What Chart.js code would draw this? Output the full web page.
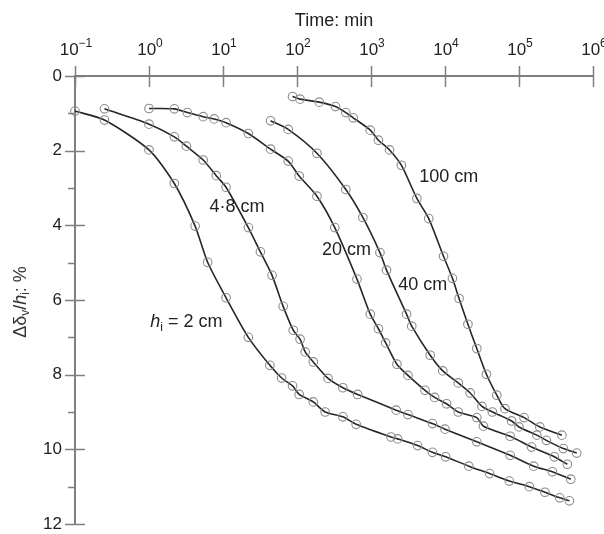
<!DOCTYPE html>
<html>
<head>
<meta charset="utf-8">
<script src="https://cdn.jsdelivr.net/npm/chart.js@4.4.1/dist/chart.umd.min.js"></script>
<style>
    html, body { margin: 0; padding: 0; background: #fff; }
    #wrap { width: 604px; height: 534px; }
</style>
</head>
<body>
<div id="wrap"><canvas id="settleChart" width="604" height="534"></canvas></div>
<script>
// Time axis (log, minutes) and settlement axis (%)
const decadeTicks = [0.1, 1, 10, 100, 1000, 10000, 100000, 1000000];
const decadeExponents = ['\u22121', '0', '1', '2', '3', '4', '5', '6'];
const yTicks = [0, 2, 4, 6, 8, 10, 12];

// h_i = 2 cm
const time2 = [0.1, 0.25, 1, 2.2, 4.2, 6.2, 11, 22, 43, 62, 87, 107, 166, 240, 417, 630, 1860, 2290, 4270, 6760, 10200, 21000, 40000, 74000, 138000, 224000, 355000, 480000];
const settle2 = [0.94, 1.18, 1.98, 2.88, 4.02, 4.99, 5.94, 7.0, 7.75, 8.09, 8.3, 8.53, 8.73, 9.0, 9.13, 9.33, 9.67, 9.72, 9.9, 10.08, 10.2, 10.45, 10.65, 10.85, 11.0, 11.15, 11.3, 11.38];

// h_i = 4.8 cm
const time48 = [0.25, 1, 2.2, 3.2, 5.4, 8.1, 11, 22, 32, 46, 65, 89, 110, 129, 166, 263, 417, 660, 2190, 3160, 6760, 10000, 26900, 75900, 158000, 282000, 500000];
const settle48 = [0.88, 1.29, 1.63, 1.88, 2.25, 2.67, 2.98, 4.06, 4.71, 5.34, 6.17, 6.81, 7.05, 7.39, 7.66, 8.1, 8.35, 8.53, 8.95, 9.07, 9.31, 9.46, 9.8, 10.16, 10.45, 10.6, 10.8];

// h_i = 20 cm
const time20 = [1, 2.2, 3.3, 5.4, 7.6, 11, 22, 44, 76, 107, 186, 324, 646, 977, 1260, 1580, 2240, 3160, 5370, 7240, 10500, 15100, 26900, 33100, 75900, 148000, 300000, 450000];
const settle20 = [0.87, 0.88, 0.98, 1.09, 1.15, 1.25, 1.54, 1.96, 2.28, 2.68, 3.22, 4.06, 5.44, 6.38, 6.77, 7.15, 7.72, 8.02, 8.42, 8.61, 8.78, 9.0, 9.15, 9.38, 9.65, 9.94, 10.2, 10.4];

// h_i = 40 cm
const time40 = [44, 76, 186, 457, 776, 1320, 1620, 3020, 3550, 6310, 9330, 15100, 21900, 31600, 43700, 79400, 100000, 174000, 234000, 398000, 603000];
const settle40 = [1.2, 1.43, 2.07, 3.04, 3.79, 4.73, 5.2, 6.38, 6.7, 7.48, 7.9, 8.22, 8.49, 8.85, 9.0, 9.24, 9.4, 9.62, 9.76, 9.98, 10.1];

// h_i = 100 cm
const time100 = [87, 110, 200, 331, 457, 575, 977, 1260, 1780, 2570, 4170, 6030, 9550, 12600, 15500, 20400, 26900, 36300, 50100, 64600, 117000, 191000, 380000];
const settle100 = [0.55, 0.62, 0.7, 0.82, 0.98, 1.12, 1.45, 1.72, 1.98, 2.39, 3.28, 3.82, 4.83, 5.42, 5.96, 6.65, 7.3, 7.99, 8.55, 8.91, 9.15, 9.4, 9.62];

const FONT = 'Liberation Sans, Arial, Helvetica, sans-serif';
const AXIS_GREY = '#7f7f7f';

function toPoints(times, values) {
    return times.map((t, i) => ({ x: t, y: values[i] }));
}

function makeSeries(label, times, values) {
    return {
        label: label,
        data: toPoints(times, values),
        borderColor: '#262626',
        borderWidth: 1.6,
        tension: 0.25,
        pointRadius: 4.3,
        pointBorderWidth: 1.1,
        pointBorderColor: '#8c8c8c',
        pointBackgroundColor: 'rgba(0,0,0,0)',
        fill: false,
        clip: 8
    };
}

// draws a row of text pieces (for sub/superscripts), centred on x
function drawPieces(ctx, pieces, x, y) {
    let total = 0;
    pieces.forEach(p => { ctx.font = p.font; total += ctx.measureText(p.text).width; });
    let cx = x - total / 2;
    pieces.forEach(p => {
        ctx.font = p.font;
        ctx.fillText(p.text, cx, y + (p.dy || 0));
        cx += ctx.measureText(p.text).width;
    });
}

// curve labels, placed in data coordinates
const curveNotes = [
    { at: [3.2, 6.6], pieces: [
        { text: 'h', font: 'italic 18px ' + FONT },
        { text: 'i', font: '12px ' + FONT, dy: 5 },
        { text: ' = 2 cm', font: '18px ' + FONT }] },
    { at: [15.5, 3.51], pieces: [{ text: '4\u00b78 cm', font: '18px ' + FONT }] },
    { at: [468, 4.65], pieces: [{ text: '20 cm', font: '18px ' + FONT }] },
    { at: [5000, 5.6], pieces: [{ text: '40 cm', font: '18px ' + FONT }] },
    { at: [11200, 2.71], pieces: [{ text: '100 cm', font: '18px ' + FONT }] }
];

const axisDecor = {
    id: 'axisDecor',
    afterDraw(chart) {
        const { ctx, chartArea } = chart;
        const x = chart.scales.x;
        const y = chart.scales.y;
        ctx.save();
        ctx.strokeStyle = AXIS_GREY;
        ctx.lineWidth = 1.5;

        // decade ticks crossing the top axis
        decadeTicks.forEach(t => {
            const px = Math.round(x.getPixelForValue(t)) + 0.5;
            ctx.beginPath();
            ctx.moveTo(px, chartArea.top - 10);
            ctx.lineTo(px, chartArea.top + 11);
            ctx.stroke();
        });

        // major ticks crossing the left axis, minor ones outside
        for (let v = 0; v <= 12; v++) {
            const py = Math.round(y.getPixelForValue(v)) + 0.5;
            ctx.beginPath();
            if (v % 2 === 0) {
                ctx.moveTo(chartArea.left - 10, py);
                ctx.lineTo(chartArea.left + 10, py);
            } else {
                ctx.moveTo(chartArea.left - 7, py);
                ctx.lineTo(chartArea.left, py);
            }
            ctx.stroke();
        }

        // decade labels 10^n
        ctx.fillStyle = '#222';
        ctx.textBaseline = 'alphabetic';
        ctx.textAlign = 'left';
        decadeTicks.forEach((t, i) => {
            const px = x.getPixelForValue(t);
            drawPieces(ctx, [
                { text: '10', font: '17px ' + FONT },
                { text: decadeExponents[i], font: '12px ' + FONT, dy: -8 }
            ], px + 1, 55);
        });

        // y-axis title, rotated
        ctx.save();
        ctx.translate(21, 302);
        ctx.rotate(-Math.PI / 2);
        ctx.textBaseline = 'middle';
        ctx.fillStyle = '#333';
        drawPieces(ctx, [
            { text: '\u0394\u03b4', font: '18px ' + FONT },
            { text: 'v', font: '12px ' + FONT, dy: 5 },
            { text: '/', font: '18px ' + FONT },
            { text: 'h', font: 'italic 18px ' + FONT },
            { text: 'i', font: '12px ' + FONT, dy: 5 },
            { text: ': %', font: '18px ' + FONT }
        ], 0, 0);
        ctx.restore();

        // curve labels
        ctx.fillStyle = '#222';
        ctx.textBaseline = 'middle';
        curveNotes.forEach(n => {
            drawPieces(ctx, n.pieces, x.getPixelForValue(n.at[0]), y.getPixelForValue(n.at[1]));
        });
        ctx.restore();
    }
};

const settleChart = new Chart(document.getElementById('settleChart'), {
    type: 'line',
    data: {
        datasets: [
            makeSeries('2 cm', time2, settle2),
            makeSeries('4.8 cm', time48, settle48),
            makeSeries('20 cm', time20, settle20),
            makeSeries('40 cm', time40, settle40),
            makeSeries('100 cm', time100, settle100)
        ]
    },
    options: {
        responsive: false,
        animation: false,
        layout: { padding: { left: 0, top: 0, right: 11, bottom: 10 } },
        plugins: {
            legend: { display: false },
            tooltip: { enabled: false }
        },
        scales: {
            x: {
                type: 'logarithmic',
                position: 'top',
                min: 0.1,
                max: 1000000,
                afterBuildTicks: s => { s.ticks = decadeTicks.map(v => ({ value: v })); },
                afterFit: s => { s.height = 76; s.paddingLeft = 0; s.paddingRight = 0; },
                ticks: { display: false },
                grid: { display: false, drawTicks: false },
                border: { display: true, color: AXIS_GREY, width: 2 },
                title: {
                    display: true,
                    text: 'Time: min',
                    color: '#222',
                    font: { family: FONT, size: 18 },
                    padding: { top: 10, bottom: 0 }
                }
            },
            y: {
                type: 'linear',
                reverse: true,
                min: 0,
                max: 12,
                afterBuildTicks: s => { s.ticks = yTicks.map(v => ({ value: v })); },
                afterFit: s => { s.width = 75; s.paddingTop = 0; s.paddingBottom = 0; },
                ticks: {
                    color: '#222',
                    padding: 13,
                    font: { family: FONT, size: 17 }
                },
                grid: { display: false, drawTicks: false },
                border: { display: true, color: AXIS_GREY, width: 2 }
            }
        }
    },
    plugins: [axisDecor]
});
</script>
</body>
</html>
